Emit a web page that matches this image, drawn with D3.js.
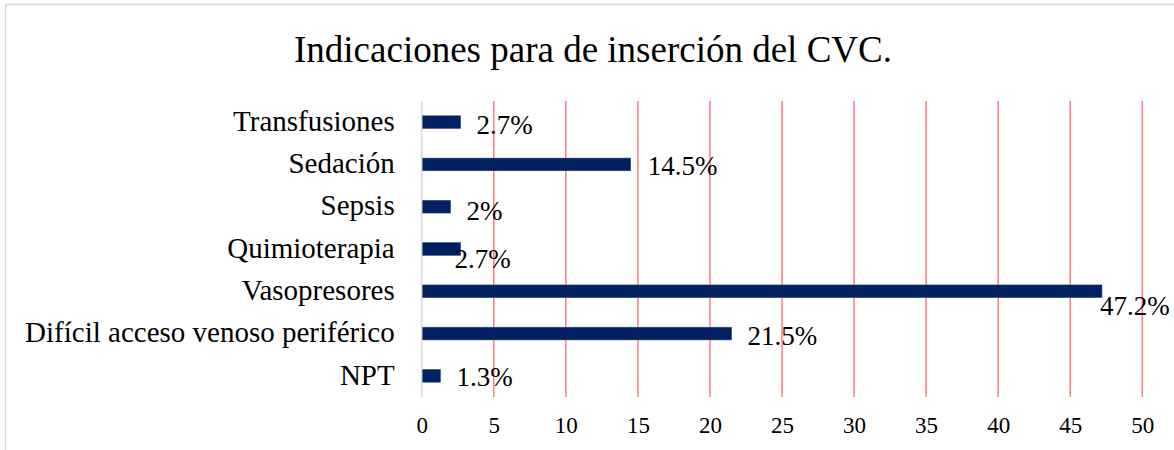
<!DOCTYPE html>
<html>
<head>
<meta charset="utf-8">
<script src="https://cdn.jsdelivr.net/npm/d3@7"></script>
<style>
  html, body { margin: 0; padding: 0; background: #fff; }
  svg text { font-family: "Liberation Serif", "Times New Roman", serif; fill: #000; }
</style>
</head>
<body>
<svg id="chart" width="1174" height="450"></svg>
<script>
const title = "Indicaciones para de inserción del CVC.";
const categories = ["Transfusiones", "Sedación", "Sepsis", "Quimioterapia", "Vasopresores", "Difícil acceso venoso periférico", "NPT"];
const values = [2.7, 14.5, 2, 2.7, 47.2, 21.5, 1.3];
const valueLabels = ["2.7%", "14.5%", "2%", "2.7%", "47.2%", "21.5%", "1.3%"];
const xTicks = [0, 5, 10, 15, 20, 25, 30, 35, 40, 45, 50];

// label nudges (style: manual offsets seen in the original)
const labelDx = [16, 17, 16, -6, -2, 16, 16];
const labelDy = [3, 1, 4, 10, 15, 2, 1];

const svg = d3.select("#chart");
const plot = { left: 421.7, right: 1142.3, top: 101, bottom: 397 };

// outer frame
svg.append("rect")
  .attr("x", 5.5).attr("y", 4.5)
  .attr("width", 1176).attr("height", 460)
  .attr("fill", "#fff").attr("stroke", "#d9d9d9").attr("stroke-width", 1.5);

const x = d3.scaleLinear().domain([0, 50]).range([plot.left, plot.right]);
const y = d3.scaleBand().domain(categories).range([plot.top, plot.bottom]).paddingInner(0.7).paddingOuter(0.35);

// gridlines
svg.append("g").selectAll("line")
  .data(xTicks.filter(t => t > 0))
  .join("line")
  .attr("x1", d => x(d)).attr("x2", d => x(d))
  .attr("y1", plot.top).attr("y2", plot.bottom)
  .attr("stroke", "#ff7c80").attr("stroke-width", 1.5);

// x axis tick labels
const xAxis = d3.axisBottom(x).tickValues(xTicks).tickSize(0).tickPadding(0).tickFormat(d3.format("d"));
const gx = svg.append("g").attr("transform", `translate(0,${plot.bottom})`).call(xAxis);
gx.select(".domain").remove();
gx.selectAll("text")
  .attr("y", 36).attr("dy", null)
  .style("font-size", "23px")
  .style("font-family", '"Liberation Serif", "Times New Roman", serif')
  .attr("fill", "#000");

// bars
svg.append("g").selectAll("rect")
  .data(categories)
  .join("rect")
  .attr("x", x(0))
  .attr("y", d => y(d))
  .attr("width", (d, i) => x(values[i]) - x(0))
  .attr("height", y.bandwidth())
  .attr("fill", "#002060")
  .attr("stroke", "#2e4a82").attr("stroke-width", 0.6);

// y axis line
svg.append("line")
  .attr("x1", x(0)).attr("x2", x(0))
  .attr("y1", plot.top).attr("y2", plot.bottom)
  .attr("stroke", "#d9d9d9").attr("stroke-width", 1.5);

// y axis labels
const yAxis = d3.axisLeft(y).tickSize(0).tickPadding(27);
const gy = svg.append("g").attr("transform", `translate(${x(0)},0)`).call(yAxis);
gy.select(".domain").remove();
gy.selectAll("text")
  .style("font-size", "29px")
  .style("font-family", '"Liberation Serif", "Times New Roman", serif')
  .attr("fill", "#000")
  .attr("dy", "0.3em");

// value labels
svg.append("g").selectAll("text")
  .data(categories)
  .join("text")
  .attr("x", (d, i) => x(values[i]) + labelDx[i])
  .attr("y", (d, i) => y(d) + y.bandwidth() / 2 + labelDy[i])
  .attr("dy", "0.34em")
  .style("font-size", "27px")
  .text((d, i) => valueLabels[i]);

// title
svg.append("text")
  .attr("x", 593).attr("y", 62)
  .attr("text-anchor", "middle")
  .style("font-size", "37px")
  .text(title);
</script>
</body>
</html>
